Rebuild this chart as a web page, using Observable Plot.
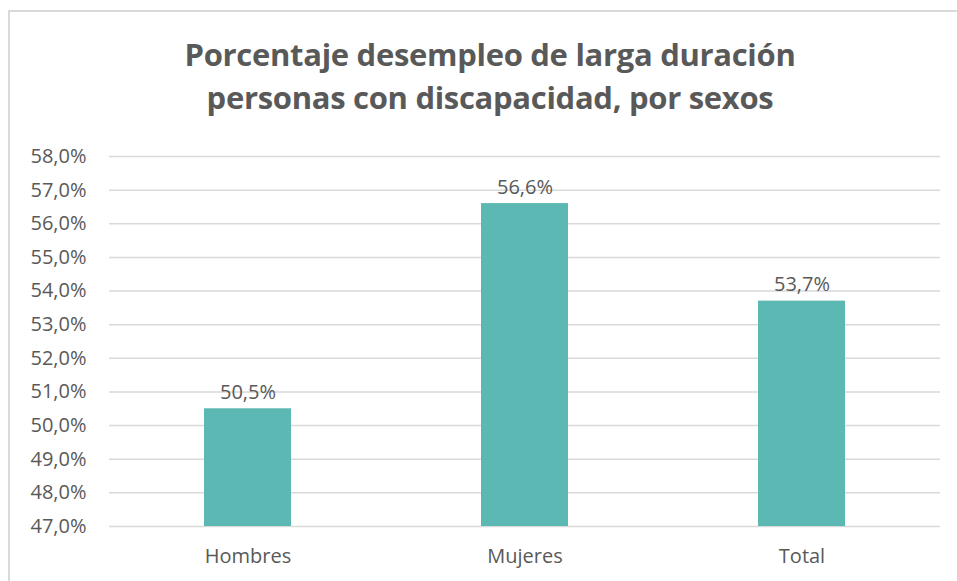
<!DOCTYPE html>
<html>
<head>
<meta charset="utf-8">
<script src="https://cdn.jsdelivr.net/npm/d3@7"></script>
<script src="https://cdn.jsdelivr.net/npm/@observablehq/plot@0.6"></script>
<style>
  html, body { margin: 0; padding: 0; background: #fff; }
  #wrap { position: relative; width: 957px; height: 581px; overflow: hidden; font-family: "Open Sans", sans-serif; }
  #frame { position: absolute; left: 8px; top: 10px; width: 1000px; height: 1000px; border-left: 2px solid #d9d9d9; border-top: 2px solid #d9d9d9; pointer-events: none; }
  #title { position: absolute; left: 0; width: 980px; top: 33px; text-align: center; color: #595959; font-weight: bold; font-size: 31px; line-height: 43px; letter-spacing: -0.3px; }
  #chart { position: absolute; left: 0; top: 130px; }
</style>
</head>
<body>
<div id="wrap">
  <div id="title">Porcentaje desempleo de larga duración<br>personas con discapacidad, por sexos</div>
  <div id="chart"></div>
  <div id="frame"></div>
</div>
<script>
const categories = ["Hombres", "Mujeres", "Total"];
const values = [50.5, 56.6, 53.7];
const yTicks = [47, 48, 49, 50, 51, 52, 53, 54, 55, 56, 57, 58];

const data = categories.map((c, i) => ({ cat: c, v: values[i] }));
const fmt = v => v.toFixed(1).replace(".", ",") + "%";

const chart = Plot.plot({
  width: 957,
  height: 451,
  marginLeft: 109,
  marginRight: 17,
  marginTop: 26,
  marginBottom: 55,
  style: { fontFamily: "'Open Sans', sans-serif", color: "#595959", background: "transparent" },
  x: { domain: categories, paddingInner: 0.686, paddingOuter: 0.343, label: null, tickSize: 0 },
  y: { domain: [47, 58], ticks: yTicks, label: null, tickSize: 0 },
  marks: [
    Plot.gridY(yTicks, { stroke: "#d9d9d9", strokeOpacity: 1, strokeWidth: 1.5 }),
    Plot.barY(data, { x: "cat", y1: 47, y2: "v", fill: "#5cb8b2" }),
    Plot.text(data, { x: "cat", y: "v", text: d => fmt(d.v), dy: -10, lineAnchor: "bottom", fontSize: 20, fill: "#595959" }),
    Plot.axisY(yTicks, { tickFormat: fmt, tickSize: 0, tickPadding: 23, fontSize: 20, fill: "#595959" }),
    Plot.axisX({ tickSize: 0, tickPadding: 22, fontSize: 20, fill: "#595959" })
  ]
});
document.getElementById("chart").appendChild(chart);
</script>
</body>
</html>
